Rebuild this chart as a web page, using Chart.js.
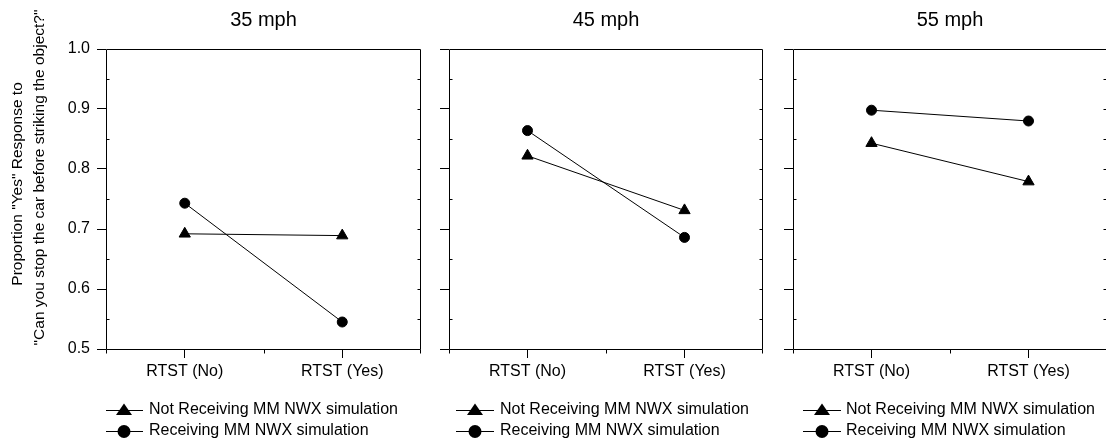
<!DOCTYPE html>
<html>
<head>
<meta charset="utf-8">
<script src="https://cdn.jsdelivr.net/npm/chart.js@4/dist/chart.umd.min.js"></script>
<style>
  html, body { margin: 0; padding: 0; background: #fff; overflow: hidden; width: 1106px; height: 442px; }
  .panel { position: absolute; top: 0; }
</style>
</head>
<body>
<div class="panel" style="left:0px"><canvas id="c35" width="430" height="449"></canvas></div>
<div class="panel" style="left:430px"><canvas id="c45" width="345" height="449"></canvas></div>
<div class="panel" style="left:775px"><canvas id="c55" width="345" height="449"></canvas></div>
<script>
const categories = ['RTST (No)', 'RTST (Yes)'];
const speedLabels = ['35 mph', '45 mph', '55 mph'];
const seriesNames = ['Not Receiving MM NWX simulation', 'Receiving MM NWX simulation'];
const yTitleLines = ['Proportion "Yes" Response to', '"Can you stop the car before striking the object?"'];

// proportion "yes"
const notReceiving35 = [0.692, 0.689];
const receiving35 = [0.743, 0.545];
const notReceiving45 = [0.822, 0.731];
const receiving45 = [0.864, 0.686];
const notReceiving55 = [0.843, 0.779];
const receiving55 = [0.898, 0.880];

const yMin = 0.5, yMax = 1.0, yStep = 0.1;

Chart.defaults.font.family = "'Liberation Sans', Arial, sans-serif";
Chart.defaults.font.size = 16;
Chart.defaults.color = '#000';

// box around the plot area + minor ticks (inward on y, short ones on x)
const frameTicks = {
    id: 'frameTicks',
    beforeDatasetsDraw(chart) {
        const { ctx, chartArea: a, scales: { y } } = chart;
        const L = a.left + 0.5, R = a.right - 0.5, T = a.top + 0.5, B = a.bottom + 0.5;
        ctx.save();
        ctx.strokeStyle = '#000';
        ctx.lineWidth = 1;
        ctx.beginPath();
        ctx.rect(L, T, R - L, B - T);
        for (let i = 1; i < 10; i++) {
            const p = Math.round(y.getPixelForValue(yMin + i * yStep / 2)) + 0.5;
            if (i % 2) {
                ctx.moveTo(L, p);
                ctx.lineTo(L + 3, p);
            }
            ctx.moveTo(R, p);
            ctx.lineTo(R - 3, p);
        }
        [L, Math.round((a.left + a.right) / 2) + 0.5, R].forEach(px => {
            ctx.moveTo(px, B);
            ctx.lineTo(px, B + 4);
        });
        ctx.stroke();
        ctx.restore();
    }
};

// legend symbol: short line with the marker on it
function legendSwatch(style, lineStart) {
    const c = document.createElement('canvas');
    c.width = 100;
    c.height = 20;
    const g = c.getContext('2d');
    g.strokeStyle = '#000';
    g.fillStyle = '#000';
    g.lineWidth = 1;
    g.beginPath();
    g.moveTo(lineStart, 10.5);
    g.lineTo(lineStart + 38, 10.5);
    g.stroke();
    const cx = lineStart + 19;
    g.beginPath();
    if (style === 'triangle') {
        g.moveTo(cx, 3.5);
        g.lineTo(cx + 8, 15);
        g.lineTo(cx - 8, 15);
        g.closePath();
    } else {
        g.arc(cx, 10.5, 6.5, 0, Math.PI * 2);
    }
    g.fill();
    return c;
}

const panels = [
    { id: 'c35', title: speedLabels[0], notRec: notReceiving35, rec: receiving35, showY: true, yWidth: 106, padRight: 9, bw: 30, lineStart: 29 },
    { id: 'c45', title: speedLabels[1], notRec: notReceiving45, rec: receiving45, showY: false, yWidth: 19, padRight: 12, bw: 38, lineStart: 33 },
    { id: 'c55', title: speedLabels[2], notRec: notReceiving55, rec: receiving55, showY: false, yWidth: 18, padRight: 13, bw: 40, lineStart: 35 }
];

panels.forEach(p => {
    const swatches = [legendSwatch('triangle', p.lineStart), legendSwatch('circle', p.lineStart)];
    new Chart(document.getElementById(p.id), {
        type: 'line',
        data: {
            labels: categories,
            datasets: [
                {
                    label: seriesNames[0],
                    data: p.notRec,
                    borderColor: '#000',
                    borderWidth: 1,
                    pointStyle: 'triangle',
                    pointRadius: 6.5,
                    pointBorderWidth: 1,
                    pointBackgroundColor: '#000',
                    pointBorderColor: '#000'
                },
                {
                    label: seriesNames[1],
                    data: p.rec,
                    borderColor: '#000',
                    borderWidth: 1,
                    pointStyle: 'circle',
                    pointRadius: 5,
                    pointBorderWidth: 1,
                    pointBackgroundColor: '#000',
                    pointBorderColor: '#000'
                }
            ]
        },
        options: {
            responsive: false,
            animation: false,
            devicePixelRatio: 1,
            layout: { padding: { left: 0, right: p.padRight, top: 0, bottom: 0 } },
            scales: {
                x: {
                    offset: true,
                    grid: { drawOnChartArea: false, offset: false, color: '#000', tickLength: 9 },
                    border: { display: false },
                    ticks: { padding: 4, maxRotation: 0, color: '#000' },
                    afterFit: s => { s.height = 48; }
                },
                y: {
                    min: yMin,
                    max: yMax,
                    grid: { drawOnChartArea: false, color: '#000', tickLength: 9 },
                    border: { display: false },
                    ticks: {
                        stepSize: yStep,
                        display: p.showY,
                        padding: 7,
                        color: '#000',
                        callback: v => v.toFixed(1)
                    },
                    title: {
                        display: p.showY,
                        text: [' '.repeat(7) + yTitleLines[0], ' '.repeat(10) + yTitleLines[1]],
                        font: { size: 15.5, lineHeight: 22 / 15.5 },
                        padding: { top: 7, bottom: 0 },
                        color: '#000'
                    },
                    afterFit: s => { s.width = p.yWidth; }
                }
            },
            plugins: {
                title: {
                    display: true,
                    text: p.title,
                    fullSize: false,
                    color: '#000',
                    font: { size: 20, weight: 'normal' },
                    padding: { top: 8, bottom: 17 }
                },
                legend: {
                    position: 'bottom',
                    align: 'start',
                    fullSize: false,
                    labels: {
                        usePointStyle: true,
                        pointStyleWidth: p.bw,
                        padding: 5,
                        color: '#000',
                        font: { size: 16 },
                        generateLabels: chart => chart.data.datasets.map((ds, i) => ({
                            text: ds.label,
                            pointStyle: swatches[i],
                            fontColor: '#000',
                            fillStyle: '#000',
                            strokeStyle: '#000',
                            lineWidth: 0,
                            hidden: false,
                            datasetIndex: i
                        }))
                    }
                },
                tooltip: { enabled: false }
            }
        },
        plugins: [frameTicks]
    });
});
</script>
</body>
</html>
